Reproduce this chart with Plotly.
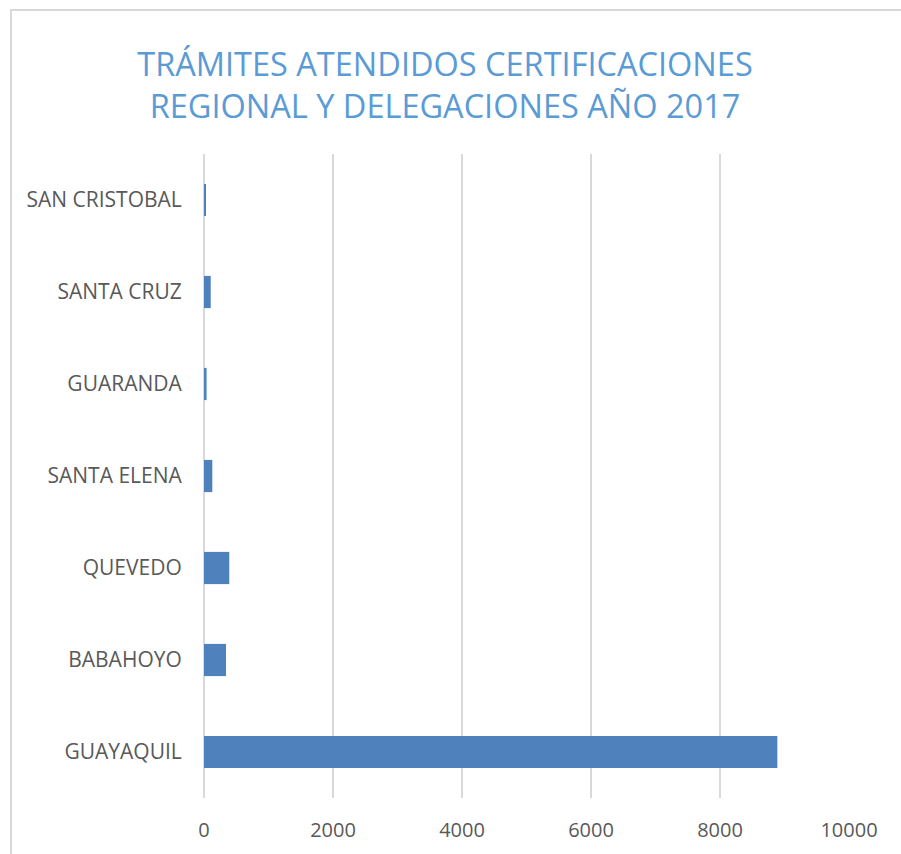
import plotly.graph_objects as go

# data
cities = ["GUAYAQUIL", "BABAHOYO", "QUEVEDO", "SANTA ELENA",
          "GUARANDA", "SANTA CRUZ", "SAN CRISTOBAL"]
tramites = [8889, 341, 392, 129, 40, 104, 25]
x_ticks = [0, 2000, 4000, 6000, 8000, 10000]
x_tick_text = ["0", "2000", "4000", "6000", "8000", "10000"]

TITLE = "TRÁMITES ATENDIDOS CERTIFICACIONES<br>REGIONAL Y DELEGACIONES AÑO 2017"
BAR = "#4F81BD"
INK = "#595959"
GRID = "#D9D9D9"

# plot area in pixels: x 204..849, y 154..798
W, H = 901, 854
L, R, T, B = 204, 52, 154, 56
pw, ph = W - L - R, H - T - B

fig = go.Figure()
fig.add_trace(go.Bar(
    x=tramites, y=cities, orientation="h",
    marker=dict(color=BAR, line=dict(width=0)),
    hovertemplate="%{y}: %{x}<extra></extra>",
))

# outer chart frame (cut off at right/bottom edge like the reference)
fig.add_shape(
    type="rect", xref="paper", yref="paper",
    x0=(11 - L) / pw, x1=(W + 10 - L) / pw,
    y0=-(B + 10) / ph, y1=(H - B - 10) / ph,
    line=dict(color=GRID, width=2), fillcolor="rgba(0,0,0,0)",
    layer="below",
)

fig.update_layout(
    width=W, height=H,
    margin=dict(l=L, r=R, t=T, b=B),
    plot_bgcolor="white", paper_bgcolor="white",
    showlegend=False,
    bargap=0.65,
    font=dict(family="Open Sans, sans-serif", color=INK),
    title=dict(
        text=TITLE,
        font=dict(family="Open Sans, sans-serif", size=32.5, color="#5B9BD5"),
        xref="container", x=445 / W, xanchor="center",
        yref="container", y=1 - 76 / H, yanchor="middle",
    ),
    xaxis=dict(
        range=[0, 10000], tickvals=x_ticks, ticktext=x_tick_text,
        showgrid=True, gridcolor=GRID, gridwidth=1.5,
        zeroline=True, zerolinecolor=GRID, zerolinewidth=2,
        showline=False, automargin=False,
        ticks="outside", ticklen=14, tickcolor="rgba(0,0,0,0)",
        tickfont=dict(size=20, color=INK),
        fixedrange=True,
    ),
    yaxis=dict(
        categoryorder="array", categoryarray=cities,
        showgrid=False, zeroline=False, showline=False, automargin=False,
        ticks="outside", ticklen=17, tickcolor="rgba(0,0,0,0)",
        tickfont=dict(size=21, color=INK),
        fixedrange=True,
    ),
)

# the page has a default 8px body margin; drop it so pixels line up
fig.write_html(
    "out.html",
    config={"displayModeBar": False},
    post_script="document.body.style.margin='0';",
)
